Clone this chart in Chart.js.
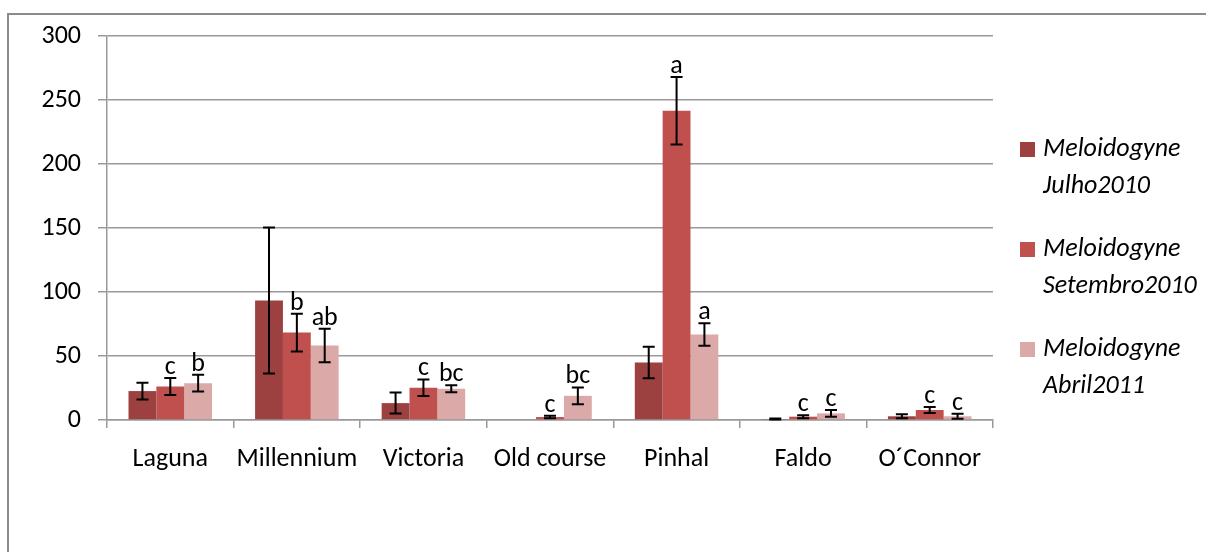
<!DOCTYPE html>
<html lang="pt">
<head>
    <meta charset="UTF-8">
    <title>Meloidogyne</title>
    <script src="https://cdn.jsdelivr.net/npm/chart.js"></script>
    <style>
        body { margin: 0; background: #fff; }
    </style>
</head>
<body>
<canvas id="chart" width="1206" height="552"></canvas>
<script>
// data
const campos = ['Laguna', 'Millennium', 'Victoria', 'Old course', 'Pinhal', 'Faldo', 'O´Connor'];
const julho2010 = [22.6, 93.3, 13.2, 0.6, 45, 0.8, 2.9];
const julhoErr = [6.5, 57, 8.2, 0, 12.3, 0.4, 1.5];
const setembro2010 = [26.2, 68.3, 25.2, 2.3, 241.6, 2.6, 7.8];
const setembroErr = [6.6, 14.7, 6.5, 1, 26.4, 1.2, 2.4];
const abril2011 = [28.8, 58.2, 24.4, 18.9, 66.8, 5.2, 2.9];
const abrilErr = [6.6, 13, 2.8, 6.5, 8.8, 2.6, 2];
const julhoLetras = ['', '', '', '', '', '', ''];
const setembroLetras = ['c', 'b', 'c', 'c', 'a', 'c', 'c'];
const abrilLetras = ['b', 'ab', 'bc', 'bc', 'a', 'c', 'c'];
const yTicks = [0, 50, 100, 150, 200, 250, 300];

const FONT = 'Carlito, Calibri, Lato, sans-serif';
const GRID = '#999999';

// error bars + significance letters
const errorBars = {
    id: 'errorBars',
    afterDatasetsDraw(chart) {
        const ctx = chart.ctx;
        const y = chart.scales.y;
        ctx.save();
        chart.data.datasets.forEach((ds, i) => {
            const meta = chart.getDatasetMeta(i);
            meta.data.forEach((bar, j) => {
                const v = ds.data[j], e = ds.err[j];
                const top = y.getPixelForValue(v + e);
                if (e > 0) {
                    const bot = y.getPixelForValue(Math.max(v - e, 0));
                    ctx.strokeStyle = '#000';
                    ctx.lineWidth = 2;
                    ctx.beginPath();
                    ctx.moveTo(bar.x, top); ctx.lineTo(bar.x, bot);
                    ctx.moveTo(bar.x - 6, top); ctx.lineTo(bar.x + 6, top);
                    ctx.moveTo(bar.x - 6, bot); ctx.lineTo(bar.x + 6, bot);
                    ctx.stroke();
                }
                const txt = ds.letras[j];
                if (txt) {
                    ctx.fillStyle = '#000';
                    ctx.font = '26px ' + FONT;
                    ctx.textAlign = 'center';
                    ctx.textBaseline = 'alphabetic';
                    ctx.fillText(txt, bar.x, top - 4);
                }
            });
        });
        ctx.restore();
    }
};

// outer frame and the two-line legend on the right
const frameLegend = {
    id: 'frameLegend',
    beforeDraw(chart) {
        const ctx = chart.ctx;
        ctx.save();
        ctx.strokeStyle = '#8c8c8c';
        ctx.lineWidth = 2;
        ctx.strokeRect(8, 14, 1400, 800);
        ctx.restore();
    },
    afterDraw(chart) {
        const ctx = chart.ctx;
        ctx.save();
        ctx.font = 'italic 26px ' + FONT;
        ctx.textBaseline = 'middle';
        ctx.textAlign = 'left';
        chart.data.datasets.forEach((ds, i) => {
            const y0 = 149 + i * 100;
            ctx.fillStyle = ds.backgroundColor;
            ctx.fillRect(1020, y0 - 7, 15, 15);
            ctx.fillStyle = '#000';
            ds.label.split(' ').forEach((line, k) => {
                ctx.fillText(line, 1043, y0 + k * 37);
            });
        });
        ctx.restore();
    }
};

new Chart(document.getElementById('chart'), {
    type: 'bar',
    data: {
        labels: campos,
        datasets: [
            {label: 'Meloidogyne Julho2010', data: julho2010, err: julhoErr, letras: julhoLetras, backgroundColor: '#9c4040'},
            {label: 'Meloidogyne Setembro2010', data: setembro2010, err: setembroErr, letras: setembroLetras, backgroundColor: '#c0504d'},
            {label: 'Meloidogyne Abril2011', data: abril2011, err: abrilErr, letras: abrilLetras, backgroundColor: '#daa9a8'}
        ]
    },
    options: {
        responsive: false,
        animation: false,
        datasets: {bar: {barPercentage: 1, categoryPercentage: 0.66, borderWidth: 0}},
        layout: {padding: {top: 36, right: 213, left: 0, bottom: 0}},
        plugins: {legend: {display: false}, tooltip: {enabled: false}},
        scales: {
            x: {
                grid: {offset: true, drawOnChartArea: false, tickLength: 8, color: GRID, lineWidth: 1.5},
                border: {color: GRID, width: 1.5},
                ticks: {font: {family: FONT, size: 26}, color: '#000', padding: 16, maxRotation: 0, autoSkip: false},
                afterFit: s => { s.height = 132; }
            },
            y: {
                min: 0, max: 300,
                afterBuildTicks: s => { s.ticks = yTicks.map(v => ({value: v})); },
                grid: {color: GRID, tickLength: 9, lineWidth: 1.5},
                border: {color: GRID, width: 1.5},
                ticks: {font: {family: FONT, size: 26}, color: '#000', padding: 17},
                afterFit: s => { s.width = 107; }
            }
        }
    },
    plugins: [errorBars, frameLegend]
});
</script>
</body>
</html>
